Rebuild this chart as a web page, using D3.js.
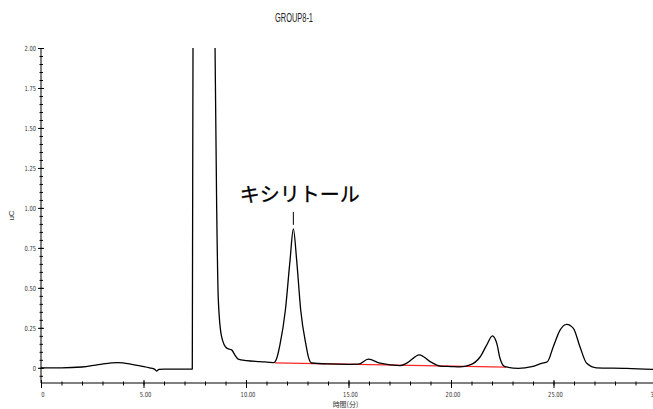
<!DOCTYPE html>
<html>
<head>
<meta charset="utf-8">
<script src="https://cdn.jsdelivr.net/npm/d3@7"></script>
<style>
    body { margin: 0; background: #fff; }
    svg { display: block; }
    .axis text { font-family: "Liberation Sans Narrow", "DejaVu Sans Condensed", sans-serif; font-size: 7px; fill: #333; }
    .axis path, .axis line { stroke: #000; stroke-width: 1; }
</style>
</head>
<body>
<svg id="chart" width="653" height="409"></svg>
<script>

// --- data ---
var title = "GROUP8-1";
var xLabel = "時間(分)";
var yLabel = "uC";
var peakName = "キシリトール";
var peakTime = 12.31;

var xMajor = [0, 5, 10, 15, 20, 25, 30];
var yMajor = [0, 0.25, 0.5, 0.75, 1.0, 1.25, 1.5, 1.75, 2.0];

// retention time (min) and signal (uC)
var signalTimes = [
    0, 1, 2, 2.8, 3.75, 4.5, 5.3, 5.55, 5.64, 5.75, 6.0, 7.0, 7.38,
    7.42, 7.9, 8.46, 8.49, 8.57, 8.65, 8.81, 9.06, 9.3, 9.46, 9.62, 10.03, 10.68,
    11.35, 11.5, 11.65, 11.92, 12.15, 12.31, 12.47, 12.67, 12.93, 13.05, 13.2,
    14.0, 15.0, 15.48, 15.97, 16.54, 17.51, 17.84, 18.46, 18.98, 19.46, 20.0, 20.44,
    20.93, 21.41, 21.74, 22.02, 22.23, 22.39, 22.63, 23.28, 23.94, 24.42, 24.7,
    24.99, 25.32, 25.64, 25.97, 26.29, 26.62, 27.1, 28.57, 30.0
];
var signalValues = [
    0, 0, 0.005, 0.02, 0.033, 0.02, 0, -0.01, -0.02, -0.01, -0.008, -0.008, -0.008,
    2.3, 3.0, 2.3, 2.0, 1.0, 0.425, 0.195, 0.123, 0.112, 0.08, 0.054, 0.045, 0.039,
    0.033, 0.06, 0.14, 0.36, 0.675, 0.869, 0.675, 0.36, 0.14, 0.065, 0.03,
    0.024, 0.022, 0.023, 0.054, 0.029, 0.014, 0.029, 0.081, 0.039, 0.011, 0.008, 0.006,
    0.018, 0.066, 0.142, 0.2, 0.154, 0.06, 0.007, -0.003, 0.007, 0.028, 0.038,
    0.132, 0.236, 0.272, 0.247, 0.132, 0.028, 0, -0.003, -0.01
];

// integration baseline drawn under the peaks
var baselineTimes = [11.41, 22.7];
var baselineValues = [0.031, 0.004];

// --- layout ---
var width = 653, height = 409;
var plot = { left: 41, right: 656, top: 48, bottom: 383 };

var svg = d3.select("#chart");

var x = d3.scaleLinear()
    .domain([0, 30])
    .range([plot.left, plot.right]);

var y = d3.scaleLinear()
    .domain([-0.095, 2.0])
    .range([plot.bottom, plot.top]);

function translate(a, b) {
    return "translate(" + a + "," + b + ")";
}

function fmt(d) {
    return d === 0 ? "0" : d3.format(".2f")(d);
}

// minor ticks first, then the labelled ones on top
var xMinor = d3.range(0, 31, 1);
var yMinor = d3.range(-0.05, 2.001, 0.05);

var xAxisMinor = svg.append("g")
    .attr("class", "axis")
    .attr("transform", translate(0, plot.bottom))
    .call(d3.axisBottom(x).tickValues(xMinor).tickSize(0).tickFormat(""));
xAxisMinor.selectAll(".tick line").attr("y1", -1.5).attr("y2", 2.5);
xAxisMinor.select(".domain").attr("d", "M" + plot.left + ",0H" + width);

var xAxis = svg.append("g")
    .attr("class", "axis")
    .attr("transform", translate(0, plot.bottom))
    .call(d3.axisBottom(x).tickValues(xMajor).tickSize(0).tickFormat(fmt));
xAxis.select(".domain").remove();
xAxis.selectAll(".tick line").attr("y1", -3).attr("y2", 5);
xAxis.selectAll(".tick text").attr("y", 9).attr("dx", 1.5);

var yAxisMinor = svg.append("g")
    .attr("class", "axis")
    .attr("transform", translate(plot.left, 0))
    .call(d3.axisLeft(y).tickValues(yMinor).tickSize(0).tickFormat(""));
yAxisMinor.selectAll(".tick line").attr("x1", -1.5).attr("x2", 2);
yAxisMinor.select(".domain").attr("d", "M0," + plot.top + "V" + plot.bottom);

var yAxis = svg.append("g")
    .attr("class", "axis")
    .attr("transform", translate(plot.left, 0))
    .call(d3.axisLeft(y).tickValues(yMajor).tickSize(0).tickFormat(fmt));
yAxis.select(".domain").remove();
yAxis.selectAll(".tick line").attr("x1", -3).attr("x2", 3);
yAxis.selectAll(".tick text").attr("x", -5);

// squeeze the tick labels a bit, the original uses a very narrow face
svg.selectAll(".axis .tick text").each(function() {
    var len = this.getComputedTextLength();
    if (len > 0) {
        d3.select(this)
            .attr("textLength", len * 0.82)
            .attr("lengthAdjust", "spacingAndGlyphs");
    }
});

// --- traces ---
svg.append("clipPath")
    .attr("id", "clip")
  .append("rect")
    .attr("x", plot.left)
    .attr("y", plot.top)
    .attr("width", plot.right - plot.left)
    .attr("height", plot.bottom - plot.top);

var traces = svg.append("g").attr("clip-path", "url(#clip)");

var line = d3.line()
    .x(d => x(d[0]))
    .y(d => y(d[1]))
    .curve(d3.curveMonotoneX);

traces.append("path")
    .datum(d3.zip(baselineTimes, baselineValues))
    .attr("fill", "none")
    .attr("stroke", "#f00")
    .attr("stroke-width", 1.2)
    .attr("stroke-opacity", 0.85)
    .attr("d", d3.line().x(d => x(d[0])).y(d => y(d[1])));

traces.append("path")
    .datum(d3.zip(signalTimes, signalValues))
    .attr("fill", "none")
    .attr("stroke", "#000")
    .attr("stroke-width", 1.3)
    .attr("stroke-linejoin", "round")
    .attr("d", line);

// --- peak annotation ---
var peakY = y(signalValues[signalTimes.indexOf(peakTime)]);

svg.append("line")
    .attr("x1", x(peakTime))
    .attr("x2", x(peakTime))
    .attr("y1", peakY - 17)
    .attr("y2", peakY - 4)
    .attr("stroke", "#000")
    .attr("stroke-width", 1);

svg.append("text")
    .attr("x", x(peakTime) + 6.5)
    .attr("y", peakY - 27)
    .attr("text-anchor", "middle")
    .style("font-family", "'Noto Sans CJK JP', sans-serif")
    .style("font-size", "20px")
    .style("fill", "#000")
    .style("stroke", "#000")
    .style("stroke-width", 0.3)
    .text(peakName);

// --- titles ---
svg.append("text")
    .attr("x", 294)
    .attr("y", 22)
    .attr("text-anchor", "middle")
    .attr("textLength", 38)
    .attr("lengthAdjust", "spacingAndGlyphs")
    .style("font-family", "'Liberation Sans Narrow', sans-serif")
    .style("font-size", "12.5px")
    .style("fill", "#222")
    .text(title);

svg.append("text")
    .attr("x", (plot.left + plot.right) / 2 - 3)
    .attr("y", 407)
    .attr("text-anchor", "middle")
    .style("font-family", "'Noto Sans CJK JP', sans-serif")
    .style("font-size", "7px")
    .style("fill", "#333")
    .text(xLabel);

svg.append("text")
    .attr("transform", translate(14, (plot.top + plot.bottom) / 2) + " rotate(-90)")
    .attr("text-anchor", "middle")
    .style("font-family", "'Liberation Sans Narrow', sans-serif")
    .style("font-size", "8px")
    .style("fill", "#333")
    .text(yLabel);

</script>
</body>
</html>
